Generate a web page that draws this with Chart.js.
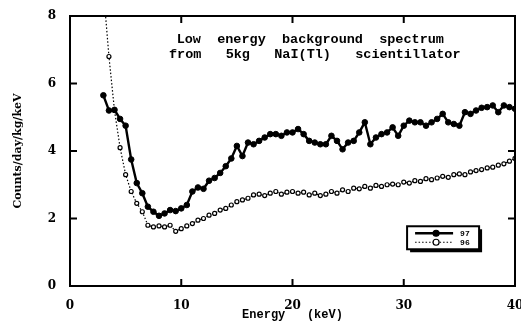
<!DOCTYPE html>
<html>
<head>
<meta charset="utf-8">
<script src="https://cdn.jsdelivr.net/npm/chart.js@4.4.1/dist/chart.umd.min.js"></script>
<style>
  html, body { margin: 0; padding: 0; background: #fff; }
  #wrap { width: 521px; height: 324px; }
</style>
</head>
<body>
<div id="wrap"><canvas id="spectrum" width="521" height="324"></canvas></div>
<script>
// energies in keV (shared by both runs)
const energies = [3, 3.5, 4, 4.5, 5, 5.5, 6, 6.5, 7, 7.5, 8, 8.5, 9, 9.5, 10, 10.5, 11, 11.5, 12, 12.5,
    13, 13.5, 14, 14.5, 15, 15.5, 16, 16.5, 17, 17.5, 18, 18.5, 19, 19.5, 20, 20.5, 21, 21.5, 22, 22.5,
    23, 23.5, 24, 24.5, 25, 25.5, 26, 26.5, 27, 27.5, 28, 28.5, 29, 29.5, 30, 30.5, 31, 31.5, 32, 32.5,
    33, 33.5, 34, 34.5, 35, 35.5, 36, 36.5, 37, 37.5, 38, 38.5, 39, 39.5, 40];

// counts/day/kg/keV
const run97 = [5.65, 5.2, 5.22, 4.95, 4.75, 3.75, 3.05, 2.75, 2.35, 2.2, 2.08, 2.15, 2.25, 2.22, 2.3, 2.4,
    2.8, 2.92, 2.88, 3.12, 3.2, 3.35, 3.55, 3.78, 4.15, 3.85, 4.25, 4.2, 4.3, 4.4, 4.5, 4.5, 4.45, 4.55,
    4.55, 4.65, 4.5, 4.3, 4.25, 4.2, 4.2, 4.45, 4.3, 4.05, 4.25, 4.3, 4.55, 4.85, 4.2, 4.4, 4.5, 4.55,
    4.7, 4.45, 4.75, 4.9, 4.85, 4.85, 4.75, 4.85, 4.95, 5.1, 4.85, 4.8, 4.75, 5.15, 5.1, 5.2, 5.28, 5.3,
    5.35, 5.15, 5.35, 5.3, 5.25];

const run96 = [8.8, 6.8, 5.2, 4.1, 3.3, 2.8, 2.45, 2.2, 1.8, 1.75, 1.78, 1.75, 1.8, 1.62, 1.7, 1.78,
    1.85, 1.95, 2.0, 2.1, 2.15, 2.25, 2.3, 2.4, 2.5, 2.55, 2.6, 2.7, 2.72, 2.68, 2.75, 2.8, 2.72, 2.78,
    2.8, 2.75, 2.78, 2.7, 2.75, 2.68, 2.72, 2.8, 2.75, 2.85, 2.8, 2.9, 2.88, 2.95, 2.9, 2.98, 2.95, 3.0,
    3.02, 3.0, 3.08, 3.05, 3.12, 3.1, 3.18, 3.15, 3.2, 3.25, 3.22, 3.3, 3.32, 3.3, 3.38, 3.42, 3.45, 3.5,
    3.52, 3.58, 3.62, 3.7, 3.78];

const xTicks = [0, 10, 20, 30, 40];
const yTicks = [0, 2, 4, 6, 8];
const titleLines = ['Low  energy  background  spectrum', 'from   5kg   NaI(Tl)   scientillator'];
const seriesLabels = ['97', '96'];

const ink = '#000';
const monoBold = 'bold 13.5px "Liberation Mono", "DejaVu Sans Mono", monospace';

function toPoints(ys) {
    return energies.map((e, i) => ({ x: e, y: ys[i] }));
}

// frame, inward ticks, in-plot title and legend box
const decorations = {
    id: 'decorations',
    afterDraw(chart) {
        const ctx = chart.ctx;
        const a = chart.chartArea;
        const xs = chart.scales.x, ys = chart.scales.y;
        ctx.save();
        ctx.strokeStyle = ink;
        ctx.lineWidth = 2;
        ctx.strokeRect(a.left, a.top, a.right - a.left, a.bottom - a.top);

        ctx.beginPath();
        xTicks.slice(1, -1).forEach(v => {
            const px = xs.getPixelForValue(v);
            ctx.moveTo(px, a.bottom); ctx.lineTo(px, a.bottom - 7);
            ctx.moveTo(px, a.top); ctx.lineTo(px, a.top + 7);
        });
        yTicks.slice(1, -1).forEach(v => {
            const py = ys.getPixelForValue(v);
            ctx.moveTo(a.left, py); ctx.lineTo(a.left + 7, py);
            ctx.moveTo(a.right, py); ctx.lineTo(a.right - 7, py);
        });
        ctx.stroke();

        // title inside the plot
        ctx.fillStyle = ink;
        ctx.font = monoBold;
        ctx.textAlign = 'center';
        ctx.textBaseline = 'middle';
        ctx.fillText(titleLines[0], xs.getPixelForValue(21.6), ys.getPixelForValue(7.3));
        ctx.fillText(titleLines[1], xs.getPixelForValue(22.0), ys.getPixelForValue(6.85));

        // legend box
        const bx = xs.getPixelForValue(30.3), by = ys.getPixelForValue(1.77);
        const bw = 72, bh = 23;
        ctx.fillStyle = ink;
        ctx.fillRect(bx + 3, by + 3, bw, bh);
        ctx.fillStyle = '#fff';
        ctx.fillRect(bx, by, bw, bh);
        ctx.lineWidth = 2;
        ctx.strokeRect(bx, by, bw, bh);

        const rows = [by + 7, by + 16];
        chart.data.datasets.forEach((ds, i) => {
            const y = rows[i];
            ctx.save();
            ctx.lineWidth = ds.borderWidth;
            ctx.setLineDash(ds.borderDash || []);
            ctx.beginPath();
            ctx.moveTo(bx + 8, y); ctx.lineTo(bx + 46, y);
            ctx.stroke();
            ctx.setLineDash([]);
            ctx.beginPath();
            ctx.arc(bx + 29, y, 3, 0, Math.PI * 2);
            ctx.fillStyle = ds.pointBackgroundColor;
            ctx.fill();
            ctx.lineWidth = 1.2;
            ctx.stroke();
            ctx.restore();
            ctx.fillStyle = ink;
            ctx.font = 'bold 8px "Liberation Mono", monospace';
            ctx.textAlign = 'left';
            ctx.fillText(ds.label, bx + 53, y + 0.5);
        });
        ctx.restore();
    }
};

new Chart(document.getElementById('spectrum'), {
    type: 'line',
    data: {
        datasets: [
            {
                label: seriesLabels[0],
                data: toPoints(run97),
                borderColor: ink,
                borderWidth: 2.4,
                pointRadius: 2.8,
                pointBackgroundColor: ink,
                pointBorderColor: ink,
                pointBorderWidth: 1,
                tension: 0
            },
            {
                label: seriesLabels[1],
                data: toPoints(run96),
                borderColor: ink,
                borderWidth: 1.2,
                borderDash: [1.5, 2],
                pointRadius: 2,
                pointBackgroundColor: '#fff',
                pointBorderColor: ink,
                pointBorderWidth: 1.2,
                tension: 0
            }
        ]
    },
    options: {
        responsive: false,
        animation: false,
        layout: { padding: { top: 16, right: 6, left: 0, bottom: 0 } },
        plugins: {
            legend: { display: false },
            tooltip: { enabled: false }
        },
        scales: {
            x: {
                type: 'linear',
                min: 0,
                max: 40,
                afterBuildTicks: s => { s.ticks = xTicks.map(v => ({ value: v })); },
                afterFit: s => { s.height = 38; s.paddingLeft = 0; s.paddingRight = 0; },
                grid: { display: false },
                border: { display: false },
                ticks: {
                    color: ink,
                    padding: 5,
                    maxRotation: 0,
                    font: { family: '"DejaVu Serif", serif', weight: 'bold', size: 12 }
                },
                title: {
                    display: true,
                    text: 'Energy   (keV)',
                    color: ink,
                    padding: { top: 0, bottom: 2 },
                    font: { family: '"Liberation Mono", monospace', weight: 'bold', size: 12 }
                }
            },
            y: {
                min: 0,
                max: 8,
                afterBuildTicks: s => { s.ticks = yTicks.map(v => ({ value: v })); },
                afterFit: s => { s.width = 70; s.paddingTop = 0; s.paddingBottom = 0; },
                grid: { display: false },
                border: { display: false },
                ticks: {
                    color: ink,
                    padding: 6,
                    font: { family: '"DejaVu Serif", serif', weight: 'bold', size: 12 }
                },
                title: {
                    display: true,
                    text: 'Counts/day/kg/keV',
                    color: ink,
                    padding: { top: 12, bottom: 0 },
                    font: { family: '"DejaVu Serif", serif', weight: 'bold', size: 11 }
                }
            }
        }
    },
    plugins: [decorations]
});
</script>
</body>
</html>
